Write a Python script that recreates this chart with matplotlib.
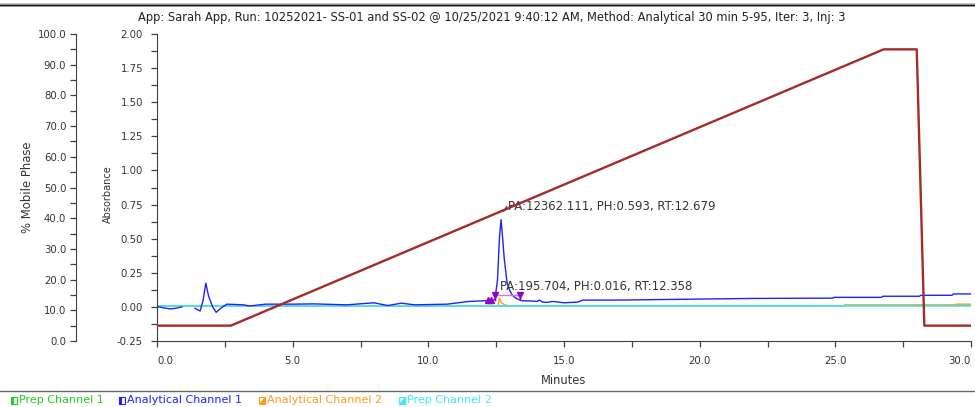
import matplotlib.pyplot as plt
from matplotlib.lines import Line2D
from matplotlib.patches import Rectangle, Polygon
from matplotlib.ticker import MultipleLocator, FormatStrFormatter
import numpy as np

plt.rcParams['font.family'] = ['DejaVu Sans']

# run info
title = ("App: Sarah App, Run: 10252021- SS-01 and SS-02 @ 10/25/2021 9:40:12 AM, "
         "Method: Analytical 30 min 5-95, Iter: 3, Inj: 3")

# gradient (% mobile phase)
grad_t = [0.0, 2.72, 26.78, 28.0, 28.28, 30.0]
grad_pct = [5, 5, 95, 95, 5, 5]

# Analytical Channel 1 (blue), nan = gap in data
ac1_t = [0.0, 0.2, 0.48, 0.7, 0.92, 0.95,
         1.40, 1.59, 1.70, 1.80, 1.90, 2.05, 2.18, 2.35, 2.57, 3.2, 3.4, 4.0,
         5.0, 5.8, 7.0, 8.0, 8.5, 9.0, 9.5, 10.7, 11.5, 12.1, 12.45, 12.55,
         12.62, 12.68, 12.74, 12.8, 12.9, 13.0, 13.1, 13.25, 13.45, 13.8, 14.0,
         14.1, 14.2, 14.35, 14.6, 15.0, 15.5, 15.7, 17.0, 19.9, 22.0, 24.9,
         24.95, 26.7, 26.75, 28.1, 28.15, 29.3, 29.35, 30.0]
ac1_abs = [0.002, -0.005, -0.015, -0.01, 0.0, np.nan,
           -0.01, -0.03, 0.05, 0.174, 0.08, 0.0, -0.04, -0.01, 0.02, 0.015, 0.006, 0.02,
           0.02, 0.022, 0.015, 0.03, 0.01, 0.027, 0.015, 0.02, 0.04, 0.045, 0.05, 0.2,
           0.5, 0.64, 0.5, 0.35, 0.18, 0.12, 0.085, 0.06, 0.045, 0.043, 0.04,
           0.05, 0.035, 0.033, 0.04, 0.03, 0.035, 0.05, 0.05, 0.057, 0.062, 0.064,
           0.07, 0.07, 0.078, 0.078, 0.085, 0.085, 0.095, 0.095]

# Analytical Channel 2 (orange)
ac2_t = [0.0, 12.57, 12.62, 12.7, 12.83, 13.1, 25.3, 25.35, 29.4, 29.45, 30.0]
ac2_abs = [0.006, 0.006, 0.064, 0.03, 0.013, 0.006, 0.006, 0.014, 0.014, 0.02, 0.02]

# Prep Channel 1 (green)
pc1_t = [0.0, 25.3, 25.35, 30.0]
pc1_abs = [0.006, 0.006, 0.011, 0.011]

# Prep Channel 2 (cyan)
pc2_t = [0.0, 30.0]
pc2_abs = [0.006, 0.006]

# peak annotations: RT, area, height, label position
peaks = [(12.679, 12362.111, 0.593, 12.95, 0.735),
         (12.358, 195.704, 0.016, 12.63, 0.147)]

x_ticks = [0, 5, 10, 15, 20, 25, 30]

legend_names = ['Prep Channel 1', 'Analytical Channel 1', 'Analytical Channel 2', 'Prep Channel 2']
c_green = '#1ed01e'
c_blue = '#2020ff'
c_orange = '#ff9a1a'
c_cyan = '#40e8ff'
c_grad = '#a52a2a'
c_int = '#9a00cc'
c_txt = '#333333'
c_axis = '#404040'
legend_colors = [c_green, c_blue, c_orange, c_cyan]

fig = plt.figure(figsize=(9.75, 4.07), dpi=100)
W, H = 975, 407
ax = fig.add_axes([157 / W, 1 - 341 / H, (971 - 157) / W, (341 - 34) / H])

ax.plot(pc1_t, pc1_abs, color=c_green, lw=1.0)
ax.plot(ac2_t, ac2_abs, color=c_orange, lw=1.0)
ax.plot(pc2_t, pc2_abs, color=c_cyan, lw=1.2)
ax.plot(ac1_t, ac1_abs, color=c_blue, lw=1.0)

# integration marks for the small peak
ax.plot([12.45, 13.38], [0.085, 0.085], color='#cc77ee', lw=1.0)
ax.plot([12.18, 12.45], [0.05, 0.05], color='#cc77ee', lw=1.0)
ax.plot([12.45, 12.45], [0.05, 0.085], color=c_int, lw=1.0)
ax.plot([13.38, 13.38], [0.05, 0.085], color=c_int, lw=1.0)
ax.plot([12.2, 12.32], [0.05, 0.05], ls='none', marker='^', ms=5, color=c_int)
ax.plot([12.45, 13.38], [0.085, 0.085], ls='none', marker='v', ms=5, color=c_int)

ax.set_xlim(0, 30)
ax.set_ylim(-0.25, 2.0)
ax.set_xticks(x_ticks, labels=[f'{v:.1f}' for v in x_ticks])
ax.xaxis.set_minor_locator(MultipleLocator(2.5))
xl = ax.get_xticklabels()
xl[0].set_horizontalalignment('left')
xl[-1].set_horizontalalignment('right')
ax.yaxis.set_major_locator(MultipleLocator(0.25))
ax.yaxis.set_minor_locator(MultipleLocator(0.125))
ax.yaxis.set_major_formatter(FormatStrFormatter('%.2f'))
ax.spines['top'].set_visible(False)
ax.spines['right'].set_visible(False)
for sp in ('left', 'bottom'):
    ax.spines[sp].set_color(c_axis)
ax.tick_params(which='both', direction='out', length=4, width=0.9, color=c_axis,
               labelsize=7.3, labelcolor=c_txt)
ax.tick_params(axis='x', pad=7)
ax.tick_params(axis='y', pad=6)
ax.set_xlabel('Minutes', fontsize=8.3, color=c_txt, va='center')
ax.xaxis.set_label_coords(0.5, -(381 - 341) / 307)
ax.set_ylabel('Absorbance', fontsize=7.0, color=c_txt, va='center')
ax.yaxis.set_label_coords((108 - 157) / 814, 0.48)

# % mobile phase on a second left axis
ax2 = ax.twinx()
ax2.yaxis.tick_left()
ax2.yaxis.set_label_position('left')
ax2.spines['left'].set_position(('axes', (76 - 157) / (971 - 157)))
for sp in ('top', 'right', 'bottom'):
    ax2.spines[sp].set_visible(False)
ax2.spines['left'].set_color(c_axis)
ax2.set_ylim(0, 100)
ax2.yaxis.set_major_locator(MultipleLocator(10))
ax2.yaxis.set_minor_locator(MultipleLocator(5))
ax2.yaxis.set_major_formatter(FormatStrFormatter('%.1f'))
ax2.tick_params(which='both', direction='out', length=4, width=0.9, color=c_axis,
                labelsize=7.3, labelcolor=c_txt, pad=3)
ax2.set_ylabel('% Mobile Phase', fontsize=8.4, color=c_txt, va='center')
ax2.yaxis.set_label_coords((28 - 157) / 814, 0.5)
ax2.plot(grad_t, grad_pct, color=c_grad, lw=1.7)

for rt, pa, ph, tx, ty in peaks:
    ax.text(tx, ty, f'PA:{pa:.3f}, PH:{ph:.3f}, RT:{rt:.3f}', fontsize=8.4,
            color=c_txt, ha='left', va='center', zorder=5)
ax.plot([12.78, 12.88], [0.70, 0.735], color=c_txt, lw=0.8)

fig.text(492 / W, 1 - 17 / H, title, fontsize=8.3, color='#222222', ha='center', va='center')

# frame lines
fig.add_artist(Line2D([0, 1], [1 - 4.5 / H] * 2, color='#b0b0b0', lw=2.6))
fig.add_artist(Line2D([0, 1], [1 - 4.5 / H] * 2, color='#111111', lw=1.0))
fig.add_artist(Line2D([0, 1], [1 - 391 / H] * 2, color='#666666', lw=1.0))

# legend strip
leg_x = [11, 119, 259, 399]
for x0, name, col in zip(leg_x, legend_names, legend_colors):
    y0 = 1 - 404 / H
    w, h = 6 / W, 7 / H
    if col == c_orange or col == c_cyan:
        fig.add_artist(Polygon([[x0 / W, y0], [x0 / W + w, y0], [x0 / W + w, y0 + h]],
                               closed=True, facecolor=col, edgecolor='none'))
    else:
        fig.add_artist(Rectangle((x0 / W, y0), w / 2, h, facecolor=col, edgecolor='none'))
    fig.add_artist(Rectangle((x0 / W, y0), w, h, facecolor='none', edgecolor=col, lw=0.8))
    fig.text((x0 + 8) / W, 1 - 400 / H, name, fontsize=8.0, color=col, ha='left', va='center')

fig.savefig('out.png', dpi=100)
